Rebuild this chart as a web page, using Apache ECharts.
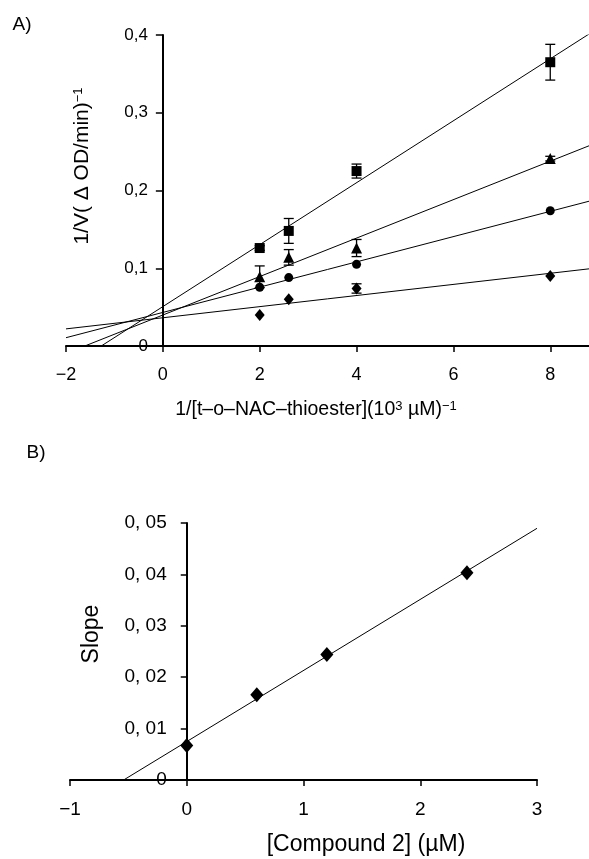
<!DOCTYPE html>
<html>
<head>
<meta charset="utf-8">
<script src="https://cdn.jsdelivr.net/npm/echarts@6/dist/echarts.min.js"></script>
<style>
  html, body { margin: 0; padding: 0; background: #fff; }
  #chart { width: 589px; height: 859px; }
</style>
</head>
<body>
<div id="chart"></div>
<script>
// Panel A: Lineweaver-Burk data (x = 1/[S])
const invSubstrate = [2, 2.6, 4, 8];
const squareVals = [0.126, 0.148, 0.225, 0.365];
const squareErr = [0.003, 0.016, 0.009, 0.023];
const triangleVals = [0.089, 0.114, 0.126, 0.241];
const triangleErr = [0.014, 0.010, 0.011, 0.003];
const circleVals = [0.0755, 0.088, 0.105, 0.174];
const circleErr = [0, 0, 0, 0];
const diamondVals = [0.040, 0.060, 0.074, 0.090];
const diamondErr = [0, 0, 0.006, 0];

// Panel B: slope replot
const compoundConc = [0, 0.6, 1.2, 2.4];
const slopeVals = [0.0067, 0.0166, 0.0244, 0.0403];

// tick values
const xTicksA = [-2, 0, 2, 4, 6, 8];
const yTicksA = [0, 0.1, 0.2, 0.3, 0.4];
const xTicksB = [-1, 0, 1, 2, 3];
const yTicksB = [0, 0.01, 0.02, 0.03, 0.04, 0.05];

const FONT = 'Liberation Sans, Arial, Helvetica, sans-serif';

// grid boxes (px) and x ranges
const gridA = { left: 66, right: 0, top: 35, bottom: 513 };
const gridB = { left: 70, right: 52, top: 523, bottom: 79 };
const xRangeA = [-2, 8.8];
const xRangeB = [-1, 3];
const W = 589;

// least squares fit, returns [intercept, slope]
function fit(xs, ys) {
    const n = xs.length;
    const mx = xs.reduce((a, b) => a + b, 0) / n;
    const my = ys.reduce((a, b) => a + b, 0) / n;
    let sxx = 0, sxy = 0;
    for (let i = 0; i < n; i++) {
        sxx += (xs[i] - mx) * (xs[i] - mx);
        sxy += (xs[i] - mx) * (ys[i] - my);
    }
    const b = sxy / sxx;
    return [my - b * mx, b];
}

function fitLine(xs, ys, x0, x1) {
    const [a, b] = fit(xs, ys);
    return [[x0, a + b * x0], [x1, a + b * x1]];
}

function pts(xs, ys) {
    return xs.map((x, i) => [x, ys[i]]);
}

function errData(xs, ys, es) {
    return xs.map((x, i) => [x, ys[i] - es[i], ys[i] + es[i]]).filter((d, i) => es[i] > 0);
}

function minus(v) {
    return String(v).replace('-', '\u2212');
}

// pixel shift that puts the y axis at x = 0
function zeroOffset(grid, range) {
    const width = W - grid.left - grid.right;
    return -width * (0 - range[0]) / (range[1] - range[0]);
}

const axisLineStyle = { color: '#000', width: 2 };

function errorBarSeries(data) {
    return {
        type: 'custom',
        xAxisIndex: 0,
        yAxisIndex: 0,
        data: data,
        encode: { x: 0, y: [1, 2] },
        z: 2,
        silent: true,
        renderItem: function (params, api) {
            const x = api.value(0);
            const top = api.coord([x, api.value(2)]);
            const bot = api.coord([x, api.value(1)]);
            const w = 5;
            const st = { stroke: '#000', lineWidth: 1.3 };
            return {
                type: 'group',
                children: [
                    { type: 'line', shape: { x1: top[0], y1: top[1], x2: bot[0], y2: bot[1] }, style: st },
                    { type: 'line', shape: { x1: top[0] - w, y1: top[1], x2: top[0] + w, y2: top[1] }, style: st },
                    { type: 'line', shape: { x1: bot[0] - w, y1: bot[1], x2: bot[0] + w, y2: bot[1] }, style: st }
                ]
            };
        }
    };
}

function markerSeries(xAxisIndex, data, symbol, size) {
    return {
        type: 'scatter',
        xAxisIndex: xAxisIndex,
        yAxisIndex: xAxisIndex,
        data: data,
        symbol: symbol,
        symbolSize: size,
        itemStyle: { color: '#000', opacity: 1 },
        z: 3,
        silent: true
    };
}

function fitSeries(xAxisIndex, data) {
    return {
        type: 'line',
        xAxisIndex: xAxisIndex,
        yAxisIndex: xAxisIndex,
        data: data,
        symbol: 'none',
        clip: true,
        lineStyle: { color: '#000', width: 1 },
        z: 1,
        silent: true
    };
}

const chart = echarts.init(document.getElementById('chart'));

const option = {
    backgroundColor: '#fff',
    animation: false,
    textStyle: { fontFamily: FONT, color: '#000' },
    grid: [gridA, gridB],
    xAxis: [
        {
            gridIndex: 0, type: 'value', min: xRangeA[0], max: xRangeA[1],
            axisLine: { onZero: true, lineStyle: axisLineStyle },
            axisTick: { customValues: xTicksA, length: 6, lineStyle: { color: '#000', width: 1.5 } },
            axisLabel: { customValues: xTicksA, formatter: minus, margin: 20, fontSize: 18, color: '#000', fontFamily: FONT },
            splitLine: { show: false }
        },
        {
            gridIndex: 1, type: 'value', min: xRangeB[0], max: xRangeB[1], interval: 1,
            axisLine: { onZero: true, lineStyle: axisLineStyle },
            axisTick: { length: 6, lineStyle: { color: '#000', width: 1.5 } },
            axisLabel: { formatter: minus, margin: 20, fontSize: 19, color: '#000', fontFamily: FONT },
            splitLine: { show: false }
        }
    ],
    yAxis: [
        {
            gridIndex: 0, type: 'value', min: 0, max: 0.4, interval: 0.1,
            offset: zeroOffset(gridA, xRangeA),
            axisLine: { onZero: false, lineStyle: axisLineStyle },
            axisTick: { length: 7, lineStyle: { color: '#000', width: 1.5 } },
            axisLabel: {
                margin: 15, fontSize: 17, color: '#000', fontFamily: FONT,
                formatter: v => v === 0 ? '0' : '0,' + Math.round(v * 10)
            },
            splitLine: { show: false }
        },
        {
            gridIndex: 1, type: 'value', min: 0, max: 0.05, interval: 0.01,
            offset: zeroOffset(gridB, xRangeB),
            axisLine: { onZero: false, lineStyle: axisLineStyle },
            axisTick: { length: 6, lineStyle: { color: '#000', width: 1.5 } },
            axisLabel: {
                margin: 20, fontSize: 19, color: '#000', fontFamily: FONT,
                formatter: v => v === 0 ? '0' : '0, 0' + Math.round(v * 100)
            },
            splitLine: { show: false }
        }
    ],
    graphic: [
        { type: 'text', x: 22, y: 25, style: { text: 'A)', font: '19px ' + FONT, fill: '#000', align: 'center', verticalAlign: 'middle' } },
        { type: 'text', x: 36, y: 453, style: { text: 'B)', font: '19px ' + FONT, fill: '#000', align: 'center', verticalAlign: 'middle' } },
        {
            type: 'text', x: 82, y: 166, rotation: Math.PI / 2,
            style: {
                text: '1/V( \u0394 OD/min){sup|\u22121}',
                font: '21px ' + FONT, fill: '#000', align: 'center', verticalAlign: 'middle',
                rich: { sup: { fontSize: 13, fontFamily: FONT, verticalAlign: 'top', fill: '#000' } }
            }
        },
        {
            type: 'text', x: 316, y: 410,
            style: {
                text: '1/[t\u2013o\u2013NAC\u2013thioester](10{sup|3} \u00b5M){sup|\u22121}',
                font: '19.5px ' + FONT, fill: '#000', align: 'center', verticalAlign: 'middle',
                rich: { sup: { fontSize: 13, fontFamily: FONT, verticalAlign: 'top', fill: '#000' } }
            }
        },
        {
            type: 'text', x: 92, y: 634, rotation: Math.PI / 2,
            style: { text: 'Slope', font: '23px ' + FONT, fill: '#000', align: 'center', verticalAlign: 'middle' }
        },
        {
            type: 'text', x: 366, y: 845,
            style: { text: '[Compound 2] (\u00b5M)', font: '23px ' + FONT, fill: '#000', align: 'center', verticalAlign: 'middle' }
        }
    ],
    series: [
        fitSeries(0, fitLine(invSubstrate, squareVals, xRangeA[0], xRangeA[1])),
        fitSeries(0, fitLine(invSubstrate, triangleVals, xRangeA[0], xRangeA[1])),
        fitSeries(0, fitLine(invSubstrate, circleVals, xRangeA[0], xRangeA[1])),
        fitSeries(0, fitLine(invSubstrate, diamondVals, xRangeA[0], xRangeA[1])),
        errorBarSeries(errData(invSubstrate, squareVals, squareErr)),
        errorBarSeries(errData(invSubstrate, triangleVals, triangleErr)),
        errorBarSeries(errData(invSubstrate, circleVals, circleErr)),
        errorBarSeries(errData(invSubstrate, diamondVals, diamondErr)),
        markerSeries(0, pts(invSubstrate, squareVals), 'rect', 10),
        markerSeries(0, pts(invSubstrate, triangleVals), 'triangle', 11),
        markerSeries(0, pts(invSubstrate, circleVals), 'circle', 9),
        markerSeries(0, pts(invSubstrate, diamondVals), 'diamond', [10, 12]),
        fitSeries(1, fitLine(compoundConc, slopeVals, xRangeB[0], xRangeB[1])),
        markerSeries(1, pts(compoundConc, slopeVals), 'diamond', [13, 15])
    ]
};

chart.setOption(option);
</script>
</body>
</html>
